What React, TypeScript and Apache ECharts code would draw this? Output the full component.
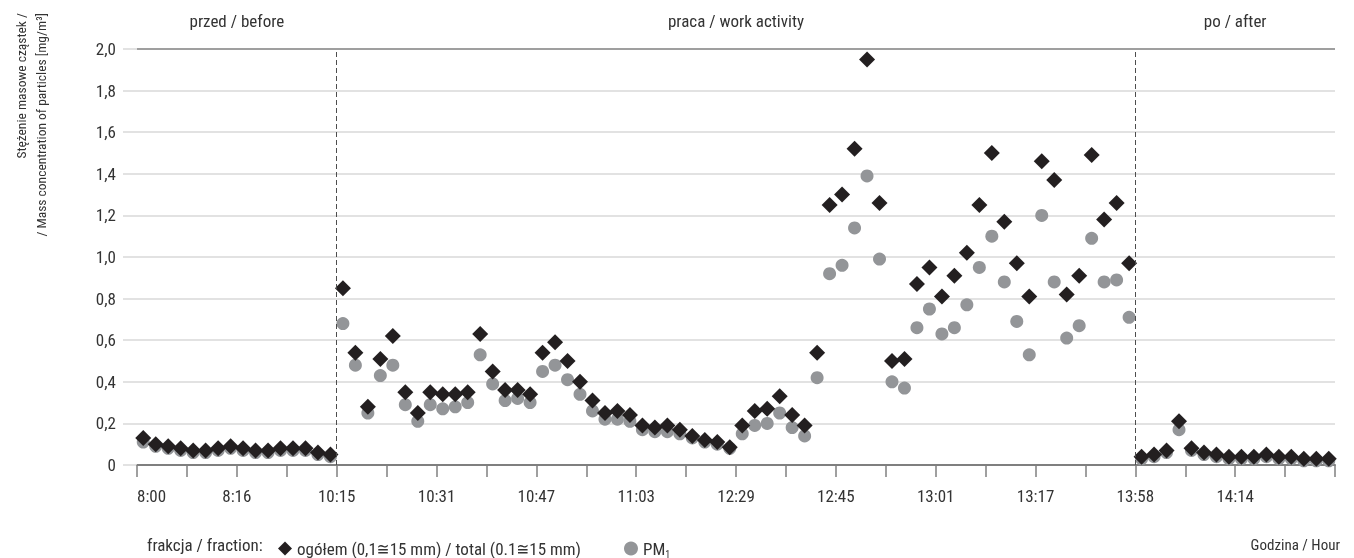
import React, { useEffect, useRef } from "react";
import * as echarts from "echarts";

// ---- data ----
const tickLabels = ["8:00", "8:16", "10:15", "10:31", "10:47", "11:03", "12:29", "12:45", "13:01", "13:17", "13:58", "14:14"];
const pointsPerLabel = 8;
const sectionLabels = ["przed / before", "praca / work activity", "po / after"];
const sectionBounds = [0, 16, 80, 96];

const totalBefore = [0.13, 0.1, 0.09, 0.08, 0.07, 0.07, 0.08, 0.09, 0.08, 0.07, 0.07, 0.08, 0.08, 0.08, 0.06, 0.05];
const pmBefore = [0.11, 0.09, 0.08, 0.07, 0.06, 0.06, 0.07, 0.08, 0.07, 0.06, 0.06, 0.07, 0.07, 0.07, 0.05, 0.04];

const totalWork = [
  0.85, 0.54, 0.28, 0.51, 0.62, 0.35, 0.25, 0.35, 0.34, 0.34, 0.35, 0.63, 0.45, 0.36, 0.36, 0.34,
  0.54, 0.59, 0.5, 0.4, 0.31, 0.25, 0.26, 0.24, 0.19, 0.18, 0.19, 0.17, 0.14, 0.12, 0.11, 0.085,
  0.19, 0.26, 0.27, 0.33, 0.24, 0.19, 0.54, 1.25, 1.3, 1.52, 1.95, 1.26, 0.5, 0.51, 0.87, 0.95,
  0.81, 0.91, 1.02, 1.25, 1.5, 1.17, 0.97, 0.81, 1.46, 1.37, 0.82, 0.91, 1.49, 1.18, 1.26, 0.97,
];
const pmWork = [
  0.68, 0.48, 0.25, 0.43, 0.48, 0.29, 0.21, 0.29, 0.27, 0.28, 0.3, 0.53, 0.39, 0.31, 0.32, 0.3,
  0.45, 0.48, 0.41, 0.34, 0.26, 0.22, 0.22, 0.21, 0.17, 0.16, 0.16, 0.15, 0.13, 0.11, 0.1, 0.08,
  0.15, 0.19, 0.2, 0.25, 0.18, 0.14, 0.42, 0.92, 0.96, 1.14, 1.39, 0.99, 0.4, 0.37, 0.66, 0.75,
  0.63, 0.66, 0.77, 0.95, 1.1, 0.88, 0.69, 0.53, 1.2, 0.88, 0.61, 0.67, 1.09, 0.88, 0.89, 0.71,
];

const totalAfter = [0.04, 0.05, 0.07, 0.21, 0.08, 0.06, 0.05, 0.04, 0.04, 0.04, 0.05, 0.04, 0.04, 0.03, 0.03, 0.03];
const pmAfter = [0.03, 0.04, 0.06, 0.17, 0.07, 0.05, 0.04, 0.03, 0.03, 0.03, 0.04, 0.03, 0.03, 0.02, 0.02, 0.02];

const totalName = "ogółem (0,1≅15 mm) / total (0.1≅15 mm)";
const pmName = "PM1";

const FONT = "'Liberation Sans Narrow', 'Roboto Condensed', 'DejaVu Sans Condensed', sans-serif";
const TEXT = "#333333";
const FS = 17;

export default function App() {
  const ref = useRef<HTMLDivElement>(null);

  useEffect(() => {
    if (!ref.current) return;
    const chart = echarts.init(ref.current, undefined, { renderer: "svg" });
    const total = [...totalBefore, ...totalWork, ...totalAfter];
    const pm = [...pmBefore, ...pmWork, ...pmAfter];
    const toPts = (arr: number[]) => arr.map((v, i) => [i + 0.5, v]);
    const nCat = tickLabels.length * pointsPerLabel;
    const gridColors = Array.from({ length: 11 }, (_, i) => (i === 0 || i === 10 ? "#7f7f7f" : "#d9d9d9"));

    chart.setOption({
      animation: false,
      textStyle: { fontFamily: FONT },
      grid: { left: 137, right: 19, top: 49, bottom: 93 },
      xAxis: [
        {
          type: "value",
          min: 0,
          max: nCat,
          interval: 4,
          axisLine: { lineStyle: { color: "#7f7f7f", width: 2 } },
          axisTick: { show: true, length: 12, lineStyle: { color: "#7f7f7f", width: 1.5 } },
          splitLine: { show: false },
          axisLabel: {
            margin: 22,
            fontSize: FS,
            color: TEXT,
            fontFamily: FONT,
            alignMinLabel: "left",
            showMaxLabel: true,
            formatter: (v: number) => {
              const r = Math.round(v);
              return r % pointsPerLabel === 0 ? tickLabels[r / pointsPerLabel] ?? "" : "";
            },
          },
        },
        {
          type: "value",
          position: "top",
          min: 0,
          max: nCat,
          interval: 8,
          axisLine: { show: false },
          axisTick: { show: false },
          splitLine: { show: false },
          axisLabel: {
            margin: 20,
            fontSize: FS,
            color: TEXT,
            fontFamily: FONT,
            formatter: (v: number) => {
              const r = Math.round(v);
              for (let s = 0; s < sectionLabels.length; s++) {
                if (r === (sectionBounds[s] + sectionBounds[s + 1]) / 2) return sectionLabels[s];
              }
              return "";
            },
          },
        },
      ],
      yAxis: {
        type: "value",
        min: 0,
        max: 2,
        interval: 0.2,
        axisLine: { show: false },
        axisTick: { show: true, length: 14, lineStyle: { color: "#d9d9d9", width: 1.5 } },
        splitLine: { show: true, lineStyle: { color: gridColors, width: 1.5 } },
        axisLabel: {
          margin: 21,
          fontSize: FS,
          color: TEXT,
          fontFamily: FONT,
          formatter: (v: number) => (v === 0 ? "0" : v.toFixed(1).replace(".", ",")),
        },
      },
      legend: {
        left: 273,
        top: 535,
        itemGap: 43,
        itemWidth: 14,
        itemHeight: 14,
        textStyle: {
          fontSize: FS,
          color: TEXT,
          fontFamily: FONT,
          rich: {
            n: { fontSize: FS, color: TEXT, fontFamily: FONT },
            sub: { fontSize: 10, color: TEXT, fontFamily: FONT, padding: [11, 0, 0, 0] },
          },
        },
        formatter: (name: string) => (name === pmName ? "{n|PM}{sub|1}" : name),
        data: [
          { name: totalName, icon: "diamond", itemStyle: { opacity: 1 } },
          { name: pmName, icon: "circle", itemStyle: { opacity: 1 } },
        ],
      },
      graphic: [
        {
          type: "text",
          x: 31,
          y: 13,
          rotation: Math.PI / 2,
          style: {
            text: "Stężenie masowe cząstek /\n/ Mass concentration of particles [mg/m³]",
            align: "right",
            verticalAlign: "middle",
            fontSize: 13.5,
            lineHeight: 20,
            fontFamily: FONT,
            fill: TEXT,
          },
        },
        {
          type: "text",
          x: 147,
          y: 545,
          style: { text: "frakcja / fraction:", fontSize: FS, fontFamily: FONT, fill: TEXT, verticalAlign: "middle" },
        },
        {
          type: "text",
          x: 1340,
          y: 545,
          style: { text: "Godzina / Hour", fontSize: 15, fontFamily: FONT, fill: TEXT, align: "right", verticalAlign: "middle" },
        },
      ],
      series: [
        {
          name: pmName,
          type: "scatter",
          symbol: "circle",
          symbolSize: 13,
          itemStyle: { color: "#939598", opacity: 1 },
          data: toPts(pm),
          z: 2,
        },
        {
          name: totalName,
          type: "scatter",
          symbol: "diamond",
          symbolSize: 16,
          itemStyle: { color: "#231f20", opacity: 1 },
          data: toPts(total),
          z: 3,
          markLine: {
            silent: true,
            symbol: ["none", "none"],
            label: { show: false },
            lineStyle: { type: [5, 3], color: "#4d4d4d", width: 1 },
            data: [{ xAxis: sectionBounds[1] }, { xAxis: sectionBounds[2] }],
          },
        },
      ],
    });

    return () => chart.dispose();
  }, []);

  return <div ref={ref} style={{ position: "fixed", left: 0, top: 0, width: 1354, height: 558 }} />;
}
